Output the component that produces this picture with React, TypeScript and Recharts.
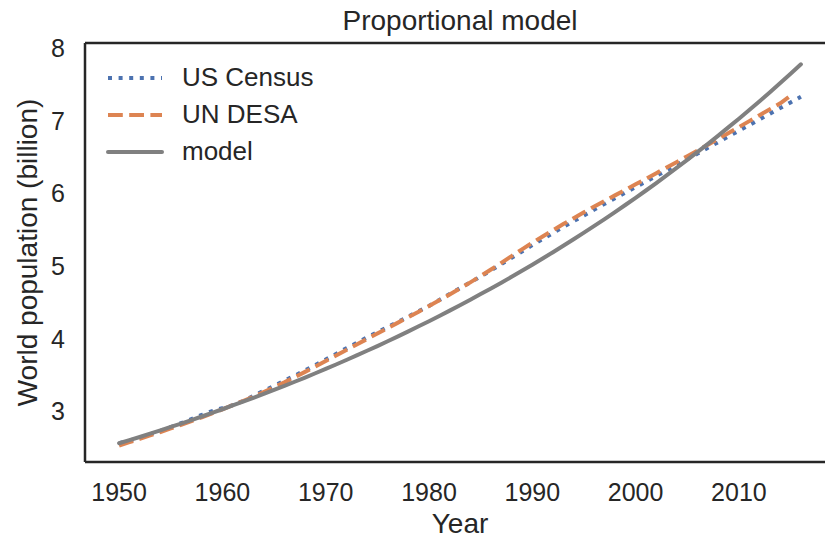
import { LineChart, Line, XAxis, YAxis, ReferenceLine } from 'recharts';

// world population, billions
const years = [
  1950, 1951, 1952, 1953, 1954, 1955, 1956, 1957, 1958, 1959,
  1960, 1961, 1962, 1963, 1964, 1965, 1966, 1967, 1968, 1969,
  1970, 1971, 1972, 1973, 1974, 1975, 1976, 1977, 1978, 1979,
  1980, 1981, 1982, 1983, 1984, 1985, 1986, 1987, 1988, 1989,
  1990, 1991, 1992, 1993, 1994, 1995, 1996, 1997, 1998, 1999,
  2000, 2001, 2002, 2003, 2004, 2005, 2006, 2007, 2008, 2009,
  2010, 2011, 2012, 2013, 2014, 2015, 2016,
];

const usCensus = [
  2.558, 2.595, 2.637, 2.682, 2.730, 2.782, 2.835, 2.891, 2.948, 3.001,
  3.043, 3.084, 3.140, 3.210, 3.281, 3.350, 3.421, 3.490, 3.562, 3.637,
  3.713, 3.790, 3.867, 3.942, 4.017, 4.089, 4.160, 4.232, 4.304, 4.379,
  4.451, 4.534, 4.615, 4.696, 4.775, 4.856, 4.941, 5.027, 5.115, 5.201,
  5.289, 5.372, 5.456, 5.538, 5.619, 5.699, 5.779, 5.858, 5.935, 6.012,
  6.089, 6.165, 6.242, 6.319, 6.396, 6.473, 6.551, 6.630, 6.709, 6.788,
  6.866, 6.944, 7.022, 7.101, 7.179, 7.256, 7.335,
];

const unDesa = [
  2.525, 2.573, 2.619, 2.666, 2.713, 2.762, 2.812, 2.863, 2.916, 2.970,
  3.026, 3.083, 3.141, 3.201, 3.264, 3.329, 3.397, 3.469, 3.542, 3.616,
  3.691, 3.767, 3.843, 3.919, 3.995, 4.071, 4.146, 4.221, 4.296, 4.372,
  4.449, 4.528, 4.609, 4.692, 4.776, 4.864, 4.953, 5.045, 5.138, 5.230,
  5.321, 5.409, 5.495, 5.579, 5.661, 5.742, 5.821, 5.899, 5.975, 6.051,
  6.128, 6.204, 6.281, 6.358, 6.436, 6.514, 6.593, 6.673, 6.754, 6.835,
  6.916, 6.998, 7.080, 7.162, 7.244, 7.349,
];

const model = [
  2.558, 2.601, 2.645, 2.690, 2.736, 2.783, 2.830, 2.878, 2.927, 2.977,
  3.027, 3.079, 3.131, 3.184, 3.238, 3.293, 3.349, 3.406, 3.464, 3.523,
  3.583, 3.644, 3.706, 3.769, 3.833, 3.898, 3.964, 4.032, 4.100, 4.170,
  4.241, 4.313, 4.386, 4.461, 4.537, 4.614, 4.692, 4.772, 4.853, 4.936,
  5.020, 5.105, 5.192, 5.280, 5.370, 5.461, 5.554, 5.648, 5.744, 5.842,
  5.941, 6.042, 6.145, 6.249, 6.356, 6.464, 6.574, 6.685, 6.799, 6.915,
  7.032, 7.152, 7.273, 7.397, 7.523, 7.651, 7.781,
];

const xTicks = [1950, 1960, 1970, 1980, 1990, 2000, 2010];
const yTicks = [3, 4, 5, 6, 7, 8];

const X_DOMAIN = [1946.7, 2019.3];
const Y_DOMAIN = [2.3, 8.075];

const FONT = '"Liberation Sans", Arial, sans-serif';
const INK = '#262626';
const BLUE = '#4c72b0';
const ORANGE = '#dd8452';
const GREY = '#808080';

const data = years.map((year, i) => ({
  year,
  census: usCensus[i],
  desa: unDesa[i] ?? null,
  model: model[i],
}));

const legendItems = [
  { label: 'US Census', color: BLUE, dash: '4 6.6', cap: 'butt' },
  { label: 'UN DESA', color: ORANGE, dash: '14.8 6.4', cap: 'butt' },
  { label: 'model', color: GREY, dash: undefined, cap: 'round' },
];

function LegendBox() {
  return (
    <div
      style={{
        position: 'absolute',
        left: 106,
        top: 59,
        fontFamily: FONT,
        fontSize: 26,
        color: INK,
      }}
    >
      {legendItems.map((item) => (
        <div key={item.label} style={{ display: 'flex', alignItems: 'center', height: 37 }}>
          <svg width={58} height={10}>
            <line
              x1={2}
              x2={56}
              y1={5}
              y2={5}
              stroke={item.color}
              strokeWidth={4}
              strokeDasharray={item.dash}
              strokeLinecap={item.cap as any}
            />
          </svg>
          <span style={{ marginLeft: 18 }}>{item.label}</span>
        </div>
      ))}
    </div>
  );
}

export default function App() {
  const tickStyle = { fontFamily: FONT, fontSize: 25, fill: INK };
  return (
    <div
      style={{
        position: 'absolute',
        left: 0,
        top: 0,
        width: 825,
        height: 538,
        overflow: 'hidden',
        background: '#fff',
      }}
    >
      <div
        style={{
          position: 'absolute',
          left: 0,
          width: 920,
          top: 1,
          textAlign: 'center',
          fontFamily: FONT,
          fontSize: 28,
          color: INK,
          lineHeight: '40px',
        }}
      >
        Proportional model
      </div>
      <LineChart
        width={845}
        height={538}
        data={data}
        margin={{ top: 43, right: 10, left: 0, bottom: 0 }}
      >
        <XAxis
          dataKey="year"
          type="number"
          domain={X_DOMAIN}
          ticks={xTicks}
          allowDataOverflow
          height={76}
          tickLine={false}
          tickSize={0}
          tickMargin={21}
          tick={tickStyle}
          axisLine={{ stroke: INK, strokeWidth: 2.5 }}
          label={{
            value: 'Year',
            position: 'insideBottom',
            offset: 5,
            style: { fontFamily: FONT, fontSize: 28, fill: INK },
          }}
        />
        <YAxis
          type="number"
          domain={Y_DOMAIN}
          ticks={yTicks}
          allowDataOverflow
          width={85}
          tickLine={false}
          tickSize={0}
          tickMargin={20}
          tick={tickStyle}
          axisLine={{ stroke: INK, strokeWidth: 2.5 }}
          label={{
            value: 'World population (billion)',
            angle: -90,
            position: 'insideLeft',
            offset: 27,
            style: { fontFamily: FONT, fontSize: 28, fill: INK, textAnchor: 'middle' },
          }}
        />
        <ReferenceLine y={Y_DOMAIN[1]} stroke={INK} strokeWidth={2.5} ifOverflow="visible" />
        <ReferenceLine x={X_DOMAIN[1]} stroke={INK} strokeWidth={2.5} ifOverflow="visible" />
        <Line
          dataKey="census"
          name="US Census"
          type="linear"
          stroke={BLUE}
          strokeWidth={4}
          strokeDasharray="4 6.6"
          dot={false}
          activeDot={false}
          isAnimationActive={false}
        />
        <Line
          dataKey="desa"
          name="UN DESA"
          type="linear"
          stroke={ORANGE}
          strokeWidth={4}
          strokeDasharray="14.8 6.4"
          dot={false}
          activeDot={false}
          isAnimationActive={false}
        />
        <Line
          dataKey="model"
          name="model"
          type="linear"
          stroke={GREY}
          strokeWidth={4}
          strokeLinecap="round"
          dot={false}
          activeDot={false}
          isAnimationActive={false}
        />
      </LineChart>
      <LegendBox />
    </div>
  );
}
